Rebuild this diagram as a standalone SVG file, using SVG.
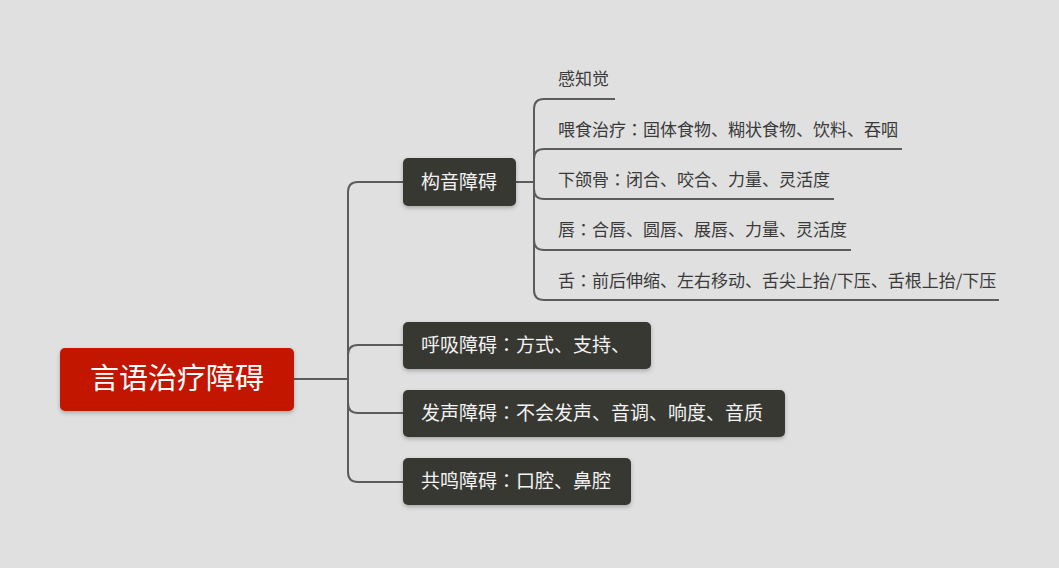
<svg xmlns="http://www.w3.org/2000/svg" width="1059" height="568" viewBox="0 0 1059 568">
<defs>
<filter id="sh" x="-10%" y="-20%" width="120%" height="150%">
<feDropShadow dx="0" dy="2" stdDeviation="2" flood-color="#000" flood-opacity="0.25"/>
</filter>
<style>
.bg{fill:#E0E0E0}
.conn{fill:none;stroke:#5C5C5C;stroke-width:2}
.root{fill:#C21506}
.node{fill:#383833}
.rt{font-family:"Noto Sans CJK SC","Noto Sans",sans-serif;font-size:29px;fill:#FFFFFF}
.nt{font-family:"Noto Sans CJK SC","Noto Sans",sans-serif;font-size:19px;fill:#F2F2F2}
.lt{font-family:"Noto Sans CJK SC","Noto Sans",sans-serif;font-size:17px;fill:#3A3A3A}
.c{font-family:"Noto Sans CJK TC","Noto Sans CJK SC",sans-serif}
</style>
</defs>
<rect class="bg" x="0" y="0" width="1059" height="568"/>
<g id="connectors">
<path class="conn" d="M294,379 H348"/>
<path class="conn" d="M348,379 V192 Q348,182 358,182 H403"/>
<path class="conn" d="M348,379 V355 Q348,345 358,345 H403"/>
<path class="conn" d="M348,379 V403 Q348,413 358,413 H403"/>
<path class="conn" d="M348,379 V472 Q348,482 358,482 H403"/>
<path class="conn" d="M516,182 H534"/>
<path class="conn" d="M534,182 V109 Q534,99 544,99 H615"/>
<path class="conn" d="M534,182 V159 Q534,149 544,149 H902"/>
<path class="conn" d="M534,182 V189 Q534,199 544,199 H834"/>
<path class="conn" d="M534,182 V240 Q534,250 544,250 H851"/>
<path class="conn" d="M534,182 V290 Q534,300 544,300 H999"/>
</g>
<g id="root">
<rect class="root" x="60" y="348" width="234" height="63" rx="5" filter="url(#sh)"/>
<text class="rt" x="177" y="389" text-anchor="middle">言语治疗障碍</text>
</g>
<g id="n-gouyin">
<rect class="node" x="403" y="158" width="113" height="48" rx="5" filter="url(#sh)"/>
<text class="nt" x="421" y="189">构音障碍</text>
</g>
<g id="n-huxi">
<rect class="node" x="403" y="322" width="248" height="47" rx="5" filter="url(#sh)"/>
<text class="nt" x="421" y="352">呼吸障碍<tspan class="c">：</tspan>方式、支持、</text>
</g>
<g id="n-fasheng">
<rect class="node" x="403" y="390" width="382" height="47" rx="5" filter="url(#sh)"/>
<text class="nt" x="421" y="420">发声障碍<tspan class="c">：</tspan>不会发声、音调、响度、音质</text>
</g>
<g id="n-gongming">
<rect class="node" x="403" y="458" width="228" height="47" rx="5" filter="url(#sh)"/>
<text class="nt" x="421" y="488">共鸣障碍<tspan class="c">：</tspan>口腔、鼻腔</text>
</g>
<g id="l-ganzhi">
<text class="lt" x="558" y="85">感知觉</text>
</g>
<g id="l-weishi">
<text class="lt" x="558" y="136">喂食治疗<tspan class="c">：</tspan>固体食物、糊状食物、饮料、吞咽</text>
</g>
<g id="l-xiahegu">
<text class="lt" x="558" y="186">下颌骨<tspan class="c">：</tspan>闭合、咬合、力量、灵活度</text>
</g>
<g id="l-chun">
<text class="lt" x="558" y="236">唇<tspan class="c">：</tspan>合唇、圆唇、展唇、力量、灵活度</text>
</g>
<g id="l-she">
<text class="lt" x="558" y="287">舌<tspan class="c">：</tspan>前后伸缩、左右移动、舌尖上抬/下压、舌根上抬/下压</text>
</g>
</svg>
